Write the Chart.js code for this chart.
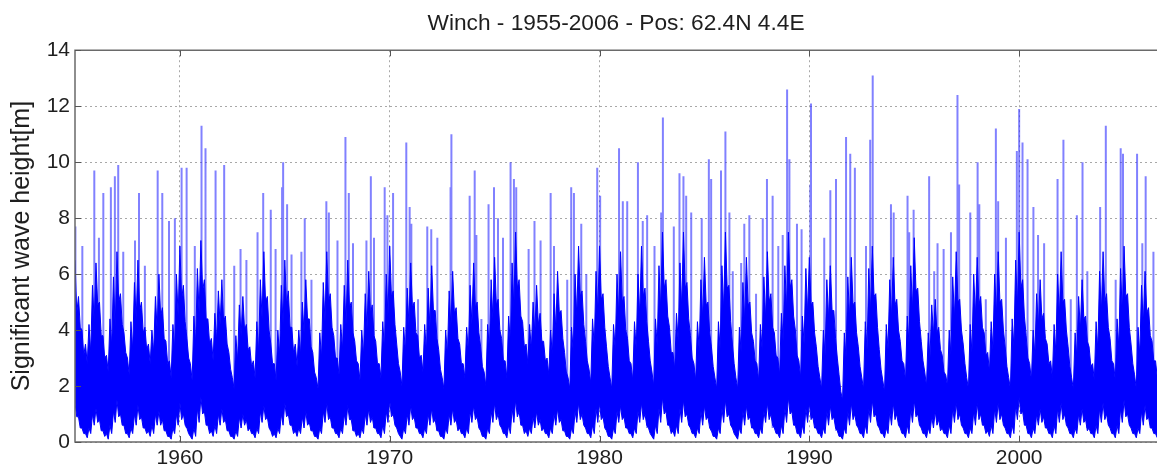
<!DOCTYPE html>
<html>
<head>
<meta charset="utf-8">
<script src="https://cdn.jsdelivr.net/npm/chart.js@4.4.1/dist/chart.umd.min.js"></script>
<style>
  html, body { margin: 0; padding: 0; background: #fff; }
  canvas { display: block; }
</style>
</head>
<body>
<canvas id="waveChart" width="1157" height="469"></canvas>
<script>
// --- Data ---
const firstYear = 1955;
const samplesPerYear = 6; // Jan, Mar, May, Jul, Sep, Nov
const xTickYears = [1960, 1970, 1980, 1990, 2000];
const yTickValues = [0, 2, 4, 6, 8, 10, 12, 14];

// highest points of the dense band, one row per year
const coreHigh = [
  [6.5,5.2,4.0,3.5,4.2,5.6], [6.4,5.0,3.8,3.1,4.4,5.9], [6.8,5.3,3.9,3.0,4.3,5.7], [6.5,5.0,4.1,3.5,4.0,5.2],
  [6.0,4.8,3.6,2.9,4.2,6.0], [7.0,5.6,3.7,2.8,4.5,6.2], [7.2,5.8,4.4,3.7,4.6,5.4], [5.8,4.5,3.2,2.3,3.8,4.9],
  [5.2,4.2,3.4,2.9,4.3,5.8], [6.8,5.2,3.5,2.8,4.0,5.6], [6.5,5.4,4.1,3.5,4.0,5.0], [5.8,4.4,3.2,2.3,3.9,5.7],
  [6.8,5.3,3.8,3.0,4.2,5.6], [6.5,5.0,3.6,2.8,4.0,5.3], [6.1,4.9,3.6,2.8,4.3,6.0], [7.0,5.4,3.5,2.5,4.1,5.5],
  [6.4,5.0,3.8,3.1,4.2,5.5], [6.3,4.7,3.3,2.3,4.0,5.4], [6.1,4.8,3.5,2.8,4.1,5.6], [6.4,5.0,3.4,2.5,4.2,5.8],
  [6.6,5.1,3.7,2.9,4.5,6.4], [7.5,5.8,4.3,3.5,4.2,5.0], [5.6,4.6,3.6,3.0,4.0,5.3], [6.1,4.7,3.2,2.3,4.1,6.0],
  [7.0,5.4,3.6,2.6,4.4,6.1], [7.0,5.3,3.4,2.3,4.2,6.0], [6.8,5.2,3.7,2.8,4.3,6.0], [7.0,5.5,3.6,2.5,4.4,6.3],
  [7.5,5.8,4.1,3.2,4.6,6.4], [7.5,5.7,3.8,2.8,4.3,5.8], [6.6,5.0,3.4,2.3,4.3,6.3], [7.5,5.6,3.5,2.3,4.1,5.7],
  [6.6,5.0,3.6,2.8,4.2,5.9], [6.8,5.3,3.9,3.0,4.6,6.3], [7.5,5.8,4.0,2.9,4.5,6.2], [6.6,5.0,3.4,2.3,4.0,5.8],
  [6.3,4.7,3.0,1.8,3.9,5.9], [6.6,5.0,3.4,2.3,4.3,6.2], [7.0,5.3,3.3,2.2,4.2,5.8], [6.6,5.1,3.6,2.8,4.5,6.3],
  [7.3,5.5,3.6,2.5,3.9,4.9], [5.1,4.1,3.1,2.4,4.0,5.9], [6.8,5.1,3.5,2.3,4.2,6.0], [6.6,5.2,3.9,3.2,4.3,6.0],
  [6.8,5.1,3.4,2.3,4.4,6.5], [7.5,5.8,3.8,2.8,4.0,5.3], [5.8,4.6,3.5,2.9,4.2,6.0], [6.8,5.1,3.4,2.3,3.9,5.2],
  [5.8,4.5,3.4,2.8,4.3,6.1], [6.8,5.3,3.7,2.8,4.4,6.2], [7.0,5.3,3.5,2.4,4.1,5.6], [6.1,4.8,3.6,2.9,4.2,5.8]
];

// top of the solid part of the band (between the fringe lines)
const coreNotch = [
  [4.6,4.1,3.1,2.8,3.2,4.3], [4.9,3.8,3.0,2.5,3.4,4.1], [5.0,4.2,3.2,2.4,3.3,4.4], [4.7,3.9,3.3,2.8,3.2,4.0],
  [4.5,3.7,2.8,2.3,3.3,4.5], [5.1,4.3,3.0,2.2,3.5,4.6], [5.4,4.4,3.5,2.9,3.6,4.2], [4.3,3.5,2.6,1.9,2.9,3.8],
  [4.0,3.3,2.7,2.3,3.2,4.4], [5.0,4.0,2.8,2.2,3.1,4.2], [4.9,4.1,3.2,2.7,3.1,3.9], [4.4,3.4,2.5,1.9,3.0,4.3],
  [5.0,4.1,3.0,2.4,3.3,4.2], [4.8,3.9,2.9,2.2,3.1,4.0], [4.6,3.8,2.8,2.3,3.3,4.5], [5.2,4.2,2.8,2.0,3.2,4.2],
  [4.8,3.9,3.0,2.5,3.2,4.1], [4.7,3.7,2.6,1.9,3.1,4.1], [4.6,3.7,2.8,2.3,3.2,4.2], [4.8,3.9,2.7,2.0,3.3,4.4],
  [4.9,4.0,2.9,2.3,3.5,4.8], [5.5,4.5,3.4,2.8,3.3,3.9], [4.2,3.6,2.9,2.4,3.1,4.0], [4.6,3.7,2.5,1.9,3.2,4.5],
  [5.2,4.2,2.9,2.1,3.4,4.6], [5.1,4.1,2.7,1.9,3.3,4.5], [5.0,4.0,2.9,2.2,3.3,4.5], [5.2,4.3,2.9,2.0,3.4,4.7],
  [5.5,4.5,3.2,2.6,3.6,4.8], [5.5,4.4,3.0,2.2,3.3,4.4], [4.9,3.9,2.7,1.9,3.3,4.7], [5.5,4.3,2.8,1.9,3.2,4.3],
  [4.9,3.9,2.9,2.2,3.3,4.4], [5.0,4.1,3.1,2.4,3.6,4.7], [5.5,4.5,3.1,2.3,3.5,4.6], [4.9,3.9,2.7,1.9,3.1,4.4],
  [4.7,3.7,2.4,1.5,3.0,4.4], [4.9,3.9,2.7,1.9,3.3,4.6], [5.2,4.1,2.6,1.8,3.3,4.4], [4.9,4.0,2.9,2.2,3.5,4.7],
  [5.4,4.3,2.9,2.0,3.0,3.8], [3.9,3.3,2.5,2.0,3.1,4.4], [5.0,4.0,2.8,1.9,3.2,4.5], [4.9,4.1,3.1,2.5,3.3,4.5],
  [5.0,4.0,2.7,1.9,3.4,4.8], [5.5,4.5,3.0,2.2,3.1,4.1], [4.4,3.7,2.8,2.3,3.2,4.5], [5.0,4.0,2.7,1.9,3.0,4.0],
  [4.4,3.6,2.7,2.2,3.3,4.6], [5.0,4.1,2.9,2.2,3.4,4.6], [5.2,4.1,2.8,1.9,3.1,4.2], [4.6,3.8,2.9,2.3,3.2,4.3]
];

// bottom of the solid part of the band
const coreLow = [
  [1.4,0.9,0.5,0.3,0.5,1.0], [1.2,0.8,0.4,0.3,0.6,1.1], [1.5,1.0,0.6,0.3,0.5,1.0], [1.3,0.9,0.5,0.4,0.6,1.0],
  [1.1,0.8,0.4,0.2,0.5,1.0], [1.4,1.0,0.5,0.2,0.5,1.2], [1.6,1.1,0.6,0.4,0.6,1.0], [1.2,0.8,0.4,0.2,0.4,0.9],
  [1.0,0.8,0.5,0.3,0.5,1.1], [1.3,0.9,0.4,0.3,0.5,1.0], [1.4,1.0,0.6,0.4,0.5,0.9], [1.1,0.7,0.4,0.2,0.5,1.1],
  [1.4,0.9,0.5,0.3,0.5,1.0], [1.3,0.8,0.4,0.3,0.5,1.0], [1.2,0.9,0.5,0.3,0.6,1.1], [1.5,1.0,0.5,0.2,0.5,1.0],
  [1.3,0.9,0.5,0.3,0.5,1.0], [1.2,0.8,0.4,0.2,0.5,1.0], [1.2,0.8,0.5,0.3,0.5,1.1], [1.3,0.9,0.4,0.2,0.5,1.1],
  [1.4,1.0,0.5,0.3,0.6,1.2], [1.5,1.1,0.6,0.4,0.5,0.9], [1.1,0.8,0.5,0.3,0.5,1.0], [1.2,0.8,0.4,0.2,0.5,1.1],
  [1.4,1.0,0.5,0.3,0.6,1.2], [1.4,0.9,0.4,0.2,0.5,1.1], [1.3,0.9,0.5,0.3,0.5,1.1], [1.4,1.0,0.5,0.2,0.6,1.2],
  [1.6,1.1,0.6,0.4,0.6,1.2], [1.5,1.0,0.5,0.3,0.5,1.1], [1.3,0.9,0.4,0.2,0.5,1.2], [1.5,1.0,0.5,0.2,0.5,1.1],
  [1.3,0.9,0.5,0.3,0.5,1.1], [1.4,1.0,0.5,0.3,0.6,1.2], [1.6,1.1,0.6,0.3,0.6,1.2], [1.4,0.9,0.5,0.3,0.5,1.1],
  [1.3,0.9,0.4,0.2,0.5,1.1], [1.4,1.0,0.5,0.3,0.6,1.2], [1.5,1.0,0.5,0.3,0.5,1.1], [1.4,1.0,0.5,0.3,0.6,1.2],
  [1.5,1.0,0.5,0.3,0.5,0.9], [1.1,0.8,0.5,0.3,0.6,1.2], [1.4,1.0,0.5,0.3,0.5,1.1], [1.4,1.0,0.6,0.4,0.6,1.2],
  [1.4,1.0,0.5,0.3,0.6,1.3], [1.6,1.1,0.6,0.3,0.5,1.0], [1.2,0.9,0.5,0.3,0.6,1.2], [1.4,1.0,0.5,0.3,0.5,1.0],
  [1.2,0.8,0.5,0.3,0.6,1.2], [1.4,1.0,0.5,0.3,0.6,1.2], [1.5,1.0,0.5,0.3,0.5,1.1], [1.3,0.9,0.5,0.3,0.5,1.1]
];

// lowest points of the band (calm spells)
const coreDip = [
  [0.9,0.5,0.3,0.15,0.3,0.6], [0.7,0.4,0.2,0.1,0.3,0.7], [0.9,0.6,0.3,0.15,0.3,0.6], [0.8,0.5,0.3,0.2,0.3,0.6],
  [0.6,0.4,0.2,0.1,0.3,0.6], [0.8,0.6,0.3,0.1,0.2,0.7], [1.0,0.6,0.3,0.2,0.3,0.6], [0.7,0.4,0.2,0.1,0.2,0.5],
  [0.6,0.4,0.3,0.15,0.3,0.7], [0.8,0.5,0.2,0.15,0.3,0.6], [0.9,0.6,0.3,0.2,0.3,0.5], [0.6,0.4,0.2,0.1,0.3,0.7],
  [0.8,0.5,0.3,0.15,0.3,0.6], [0.8,0.4,0.2,0.15,0.3,0.6], [0.7,0.5,0.3,0.15,0.3,0.7], [0.9,0.6,0.3,0.1,0.3,0.6],
  [0.8,0.5,0.3,0.15,0.3,0.6], [0.7,0.4,0.2,0.1,0.3,0.6], [0.7,0.4,0.3,0.15,0.3,0.7], [0.8,0.5,0.2,0.1,0.3,0.7],
  [0.8,0.6,0.3,0.15,0.3,0.7], [0.9,0.6,0.3,0.2,0.3,0.5], [0.6,0.4,0.3,0.15,0.3,0.6], [0.7,0.4,0.2,0.1,0.3,0.7],
  [0.8,0.6,0.3,0.15,0.3,0.7], [0.8,0.5,0.2,0.1,0.3,0.7], [0.8,0.5,0.3,0.15,0.3,0.7], [0.8,0.6,0.3,0.1,0.3,0.7],
  [1.0,0.6,0.3,0.2,0.3,0.7], [0.9,0.6,0.3,0.15,0.3,0.6], [0.8,0.5,0.2,0.1,0.3,0.7], [0.9,0.6,0.3,0.1,0.3,0.6],
  [0.8,0.5,0.3,0.15,0.3,0.7], [0.8,0.6,0.3,0.15,0.3,0.7], [1.0,0.6,0.3,0.15,0.3,0.7], [0.8,0.5,0.3,0.15,0.3,0.6],
  [0.8,0.5,0.2,0.1,0.3,0.6], [0.8,0.6,0.3,0.15,0.3,0.7], [0.9,0.6,0.3,0.15,0.3,0.6], [0.8,0.6,0.3,0.15,0.3,0.7],
  [0.9,0.6,0.3,0.15,0.3,0.5], [0.6,0.4,0.3,0.15,0.3,0.7], [0.8,0.6,0.3,0.15,0.3,0.6], [0.8,0.6,0.3,0.2,0.3,0.7],
  [0.8,0.6,0.3,0.15,0.3,0.8], [1.0,0.6,0.3,0.15,0.3,0.6], [0.7,0.5,0.3,0.15,0.3,0.7], [0.8,0.6,0.3,0.15,0.3,0.6],
  [0.7,0.4,0.3,0.15,0.3,0.7], [0.8,0.6,0.3,0.15,0.3,0.7], [0.9,0.6,0.3,0.15,0.3,0.6], [0.8,0.5,0.3,0.15,0.3,0.6]
];

// single storm peaks sticking out of the band: time (decimal year) and height [m]
const stormYears = [
  1955.02,1955.35,1955.92,1956.14,1956.35,1956.71,1956.90,1957.06,1957.30,1957.86,1958.05,1958.33,1958.94,
  1959.16,1959.48,1959.76,1960.08,1960.32,1960.71,1961.03,1961.22,1961.70,1962.11,1962.59,1962.89,1963.17,
  1963.70,1963.97,1964.33,1964.56,1964.87,1964.92,1965.11,1965.32,1965.79,1965.95,1966.27,1966.98,1967.10,
  1967.51,1967.89,1968.05,1968.25,1968.89,1969.10,1969.25,1969.76,1969.89,1970.16,1970.79,1970.95,1971.03,
  1971.35,1971.79,1971.98,1972.27,1972.90,1972.94,1973.81,1974.05,1974.13,1974.37,1974.71,1974.97,1975.16,
  1975.40,1975.76,1975.92,1976.03,1976.62,1976.90,1977.19,1977.67,1977.83,1978.46,1978.65,1978.78,1979.13,
  1979.37,1979.89,1980.03,1980.93,1981.11,1981.32,1981.83,1982.06,1982.27,1982.62,1982.94,1983.02,1983.54,
  1983.81,1984.00,1984.13,1984.37,1984.87,1985.21,1985.32,1985.79,1986.00,1986.19,1986.35,1986.75,1986.90,
  1987.14,1987.46,1987.78,1987.98,1988.25,1988.52,1988.73,1988.94,1989.05,1989.41,1989.63,1990.05,1990.08,
  1990.71,1991.00,1991.27,1991.75,1991.95,1992.17,1992.70,1992.90,1993.02,1993.89,1994.02,1994.68,1994.76,
  1994.97,1995.71,1995.95,1996.11,1996.40,1996.75,1997.06,1997.14,1997.67,1998.02,1998.10,1998.41,1998.89,
  1999.00,1999.37,1999.89,2000.00,2000.16,2000.40,2000.68,2000.90,2001.19,2001.83,2002.11,2002.46,2002.75,
  2003.02,2003.25,2003.86,2004.13,2004.60,2004.84,2004.95,2005.62,2005.87,2006.03,2006.40
];
const stormHeights = [
  7.7,7.0,9.7,7.3,8.9,9.1,9.5,9.9,6.8,7.2,8.9,6.3,9.7,
  8.9,7.9,8.0,9.8,9.8,7.0,11.3,10.5,9.7,9.9,6.3,6.9,6.5,
  7.5,8.9,8.3,6.9,9.1,10.0,8.5,6.7,6.8,8.0,5.8,8.6,8.2,
  7.2,10.9,8.9,7.1,7.2,9.5,7.3,9.1,8.1,8.9,10.7,8.4,7.8,
  5.1,7.7,7.6,7.3,9.1,11.0,8.8,9.7,7.4,4.4,8.5,9.1,8.0,
  7.3,10.0,9.4,9.1,6.9,7.9,7.2,8.9,7.0,5.8,9.1,8.9,7.8,
  6.0,9.8,8.8,10.5,8.6,8.6,10.0,7.9,8.1,7.0,8.2,11.6,7.7,
  9.6,9.5,8.8,8.2,8.0,10.1,9.4,9.7,11.1,8.2,6.1,6.4,7.8,
  8.1,5.3,8.0,9.4,8.8,7.0,7.4,12.6,10.1,7.8,7.6,9.2,12.1,
  7.3,9.0,9.4,10.9,10.3,9.8,7.0,10.8,13.1,8.5,8.2,8.8,7.5,
  8.3,9.5,6.1,7.1,6.9,7.5,12.4,9.2,8.2,10.0,8.5,5.1,11.2,
  8.6,7.3,10.4,11.9,10.7,10.1,8.4,7.4,7.1,9.4,10.8,5.1,8.1,
  10.0,6.1,8.4,11.3,5.8,10.5,10.3,10.3,7.1,9.5,6.8
];

// --- Build point lists for the library ---
const halfStep = 1 / (2 * samplesPerYear);
const sampleX = [];
coreHigh.forEach((row, y) => row.forEach((_, k) => sampleX.push(firstYear + y + k / samplesPerYear)));
const highFlat = coreHigh.flat();
const notchFlat = coreNotch.flat();
const lowFlat = coreLow.flat();
const dipFlat = coreDip.flat();

// upper edge: storm-grass between highest points and solid top
const topEdge = [];
highFlat.forEach((v, i) => topEdge.push({ x: sampleX[i], y: v }, { x: sampleX[i] + halfStep, y: notchFlat[i] }));
// lower edge: solid bottom with dips to the calm minima
const bottomEdge = [];
lowFlat.forEach((v, i) => bottomEdge.push({ x: sampleX[i], y: v }, { x: sampleX[i] + halfStep, y: dipFlat[i] }));

const stormPts = [];
stormYears.forEach((t, i) => {
  const idx = Math.min(lowFlat.length - 1, Math.round((t - firstYear) * samplesPerYear));
  stormPts.push({ x: t, y: lowFlat[idx] }, { x: t, y: stormHeights[i] }, { x: t, y: null });
});

const FONT = "'Liberation Sans', Arial, Helvetica, sans-serif";
const INK = '#1e1e1e';

// box round the axes (right side is cut off in the original) + inward ticks
const axesFrame = {
  id: 'axesFrame',
  afterDatasetsDraw(chart) {
    const { ctx, chartArea: a, scales: { x, y } } = chart;
    ctx.save();
    ctx.strokeStyle = '#6a6a6a';
    ctx.lineWidth = 1.5;
    ctx.beginPath();
    ctx.moveTo(a.right + 2, a.top);
    ctx.lineTo(a.left, a.top);
    ctx.lineTo(a.left, a.bottom);
    ctx.lineTo(a.right + 2, a.bottom);
    ctx.stroke();
    ctx.lineWidth = 1;
    ctx.strokeStyle = '#555';
    ctx.beginPath();
    xTickYears.forEach(v => {
      const px = Math.round(x.getPixelForValue(v)) + 0.5;
      ctx.moveTo(px, a.bottom); ctx.lineTo(px, a.bottom - 6);
      ctx.moveTo(px, a.top); ctx.lineTo(px, a.top + 6);
    });
    yTickValues.forEach(v => {
      const py = Math.round(y.getPixelForValue(v)) + 0.5;
      ctx.moveTo(a.left, py); ctx.lineTo(a.left + 6, py);
    });
    ctx.stroke();
    ctx.restore();
  }
};

const whiteBg = {
  id: 'whiteBg',
  beforeDraw(chart) {
    const { ctx, width, height } = chart;
    ctx.save();
    ctx.fillStyle = '#fff';
    ctx.fillRect(0, 0, width, height);
    ctx.restore();
  }
};

new Chart(document.getElementById('waveChart').getContext('2d'), {
  type: 'line',
  data: {
    datasets: [
      { data: topEdge, borderColor: '#0000ff', backgroundColor: '#0000ff', borderWidth: 1, pointRadius: 0, tension: 0, fill: '+1', order: 1 },
      { data: bottomEdge, borderColor: '#0000ff', borderWidth: 1, pointRadius: 0, tension: 0, fill: false, order: 1 },
      { data: stormPts, borderColor: 'rgba(45,45,255,0.6)', borderWidth: 2, pointRadius: 0, tension: 0, fill: false, spanGaps: false, order: 2 }
    ]
  },
  options: {
    responsive: false,
    animation: false,
    devicePixelRatio: 1,
    events: [],
    layout: { padding: 0 },
    plugins: {
      legend: { display: false },
      tooltip: { enabled: false },
      title: {
        display: true,
        text: 'Winch - 1955-2006 - Pos: 62.4N 4.4E',
        fullSize: false,
        color: INK,
        font: { family: FONT, size: 22.7, weight: 'normal', lineHeight: 1.2 },
        padding: { top: 10, bottom: 13 }
      }
    },
    scales: {
      x: {
        type: 'linear',
        min: 1955,
        max: 2006.57,
        afterBuildTicks: s => { s.ticks = xTickYears.map(v => ({ value: v })); },
        afterFit: s => { s.height = 27; },
        ticks: { color: INK, font: { family: FONT, size: 21 }, padding: 4, maxRotation: 0, autoSkip: false, callback: v => String(v) },
        grid: { color: '#a8a8a8', lineWidth: 1, drawTicks: false },
        border: { display: false, dash: [2, 3] }
      },
      y: {
        min: 0,
        max: 14,
        afterBuildTicks: s => { s.ticks = yTickValues.map(v => ({ value: v })); },
        afterFit: s => { s.width = 75; },
        ticks: { color: INK, font: { family: FONT, size: 21 }, padding: 5 },
        grid: { color: '#a8a8a8', lineWidth: 1, drawTicks: false },
        border: { display: false, dash: [2, 3] },
        title: {
          display: true,
          text: 'Significant wave height[m]',
          color: INK,
          font: { family: FONT, size: 25, lineHeight: 1.2 },
          padding: { top: 7, bottom: 0 }
        }
      }
    }
  },
  plugins: [whiteBg, axesFrame]
});
</script>
</body>
</html>
